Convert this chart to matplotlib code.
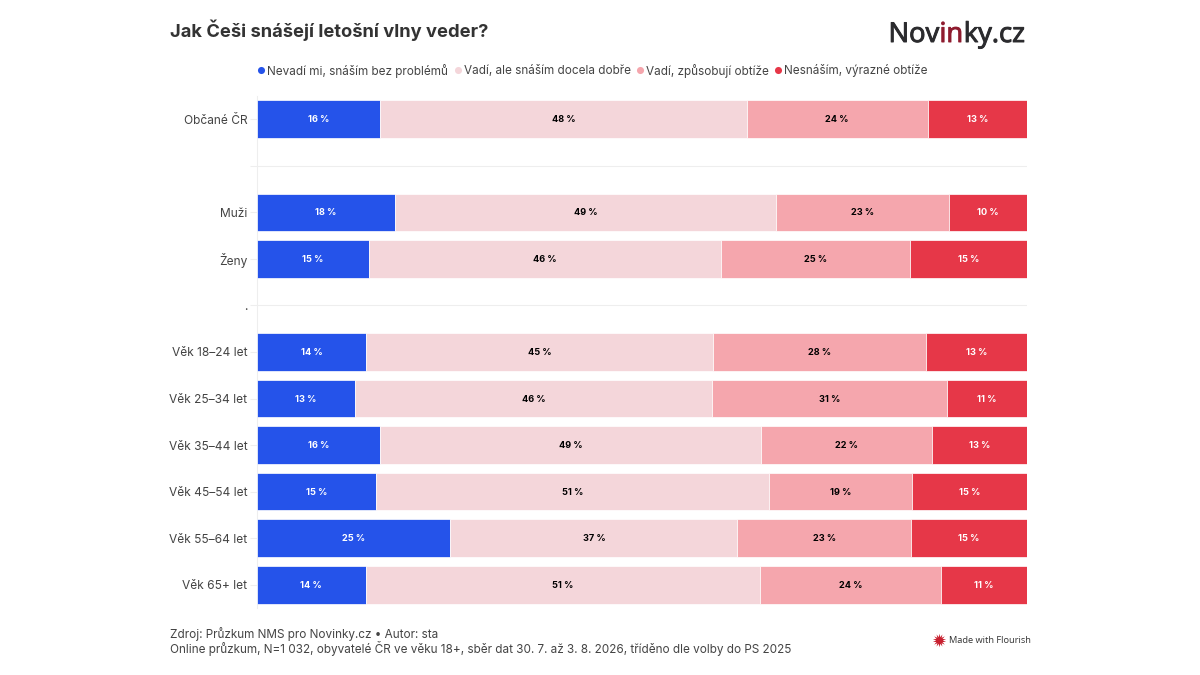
import matplotlib
matplotlib.use('Agg')
import matplotlib.pyplot as plt
import matplotlib.patheffects as pe

plt.rcParams['font.family'] = ['Inter', 'DejaVu Sans']

# data (blank rows are the gaps between groups)
categories = ['Občané ČR', '', 'Muži', 'Ženy', '.', 'Věk 18–24 let', 'Věk 25–34 let',
              'Věk 35–44 let', 'Věk 45–54 let', 'Věk 55–64 let', 'Věk 65+ let']
series_names = ['Nevadí mi, snáším bez problémů', 'Vadí, ale snáším docela dobře',
                'Vadí, způsobují obtíže', 'Nesnáším, výrazné obtíže']
no_problem = [16.0, 0, 17.9, 14.5, 0, 14.2, 12.7, 16.0, 15.4, 25.1, 14.1]
ok_mostly = [47.6, 0, 49.5, 45.8, 0, 45.0, 46.4, 49.5, 51.1, 37.3, 51.2]
some_trouble = [23.5, 0, 22.5, 24.5, 0, 27.7, 30.5, 22.1, 18.6, 22.5, 23.5]
big_trouble = [12.9, 0, 10.1, 15.2, 0, 13.1, 10.4, 12.4, 14.9, 15.1, 11.2]
# rounded labels as printed in the chart
no_problem_lbl = [16, 0, 18, 15, 0, 14, 13, 16, 15, 25, 14]
ok_mostly_lbl = [48, 0, 49, 46, 0, 45, 46, 49, 51, 37, 51]
some_trouble_lbl = [24, 0, 23, 25, 0, 28, 31, 22, 19, 23, 24]
big_trouble_lbl = [13, 0, 10, 15, 0, 13, 11, 13, 15, 15, 11]

colors = ['#2553EA', '#F4D6DA', '#F5A6AD', '#E63748']
label_colors = ['white', 'black', 'black', 'white']

W, H = 1200, 675
fig = plt.figure(figsize=(12, 6.75), dpi=100, facecolor='white')
ax = fig.add_axes([257 / W, 1 - 608 / H, 770 / W, 512 / H])

# stacked bars, the blank rows get no bar at all
rows = list(range(len(categories)))
left = [0] * len(rows)
series = [no_problem, ok_mostly, some_trouble, big_trouble]
labels = [no_problem_lbl, ok_mostly_lbl, some_trouble_lbl, big_trouble_lbl]
for vals, lbls, col, tcol in zip(series, labels, colors, label_colors):
    for r in rows:
        if vals[r] > 0:
            ax.barh(r, vals[r], left=left[r], height=0.81, color=col, edgecolor='white', linewidth=0.5, zorder=3)
            ax.text(left[r] + vals[r] / 2, r + 0.01, f'{lbls[r]} %', ha='center', va='center',
                    fontsize=6.6, fontweight='bold', color=tcol, zorder=4)
    left = [a + b for a, b in zip(left, vals)]

ax.set_xlim(0, 100)
ax.set_ylim(10.5, -0.5)
ax.set_xticks([])
ax.set_yticks(rows)
ax.set_yticklabels(categories, fontsize=8.6, color='#444444')
ax.tick_params(axis='y', length=5, width=0.8, color='#EEEEEE', pad=2)
ax.grid(axis='y', color='#EEEEEE', linewidth=0.8, zorder=0)
ax.set_axisbelow(True)
for s in ['top', 'right', 'bottom']:
    ax.spines[s].set_visible(False)
ax.spines['left'].set_color('#EEEEEE')

# title and notes
fig.text(170 / W, 1 - 30 / H, 'Jak Češi snášejí letošní vlny veder?', fontsize=13.2, fontweight='bold',
         color='#333333', ha='left', va='center')
fig.text(170 / W, 1 - 634 / H, 'Zdroj: Průzkum NMS pro Novinky.cz • Autor: sta', fontsize=8.47,
         color='#444444', ha='left', va='center')
fig.text(170 / W, 1 - 648 / H, 'Online průzkum, N=1 032, obyvatelé ČR ve věku 18+, sběr dat 30. 7. až 3. 8. 2026, tříděno dle volby do PS 2025',
         fontsize=8.47, color='#444444', ha='left', va='center')

# legend
overlay = fig.add_axes([0, 0, 1, 1], facecolor='none')
overlay.set_xlim(0, W)
overlay.set_ylim(H, 0)
overlay.axis('off')
marker_x = [261, 458, 640, 778]
for x, name, col in zip(marker_x, series_names, colors):
    overlay.scatter([x], [70], s=26, color=col, linewidths=0)
    overlay.text(x + 6, 70.5, name, fontsize=8.47, color='#444444', ha='left', va='center')

# Novinky.cz logo, three pieces placed one after the other
renderer = fig.canvas.get_renderer()
x = 888.5
for part, col in [('Nov', '#2B2B2E'), ('in', '#8E1B2E'), ('ky.cz', '#2B2B2E')]:
    t = overlay.text(x, 35, part, fontsize=19.7, family=['Open Sans', 'DejaVu Sans'],
                     color=col, ha='left', va='center',
                     path_effects=[pe.withStroke(linewidth=0.7, foreground=col)])
    x = overlay.transData.inverted().transform(t.get_window_extent(renderer))[1][0] + 0.5

# Flourish badge
overlay.scatter([939], [640], s=95, marker=(14, 1, 0), color='#C8202F', linewidths=0)
overlay.text(949, 640.5, 'Made with Flourish', fontsize=6.7, family=['Open Sans', 'DejaVu Sans'],
             color='#333333', ha='left', va='center')

fig.savefig('out.png', dpi=100)
